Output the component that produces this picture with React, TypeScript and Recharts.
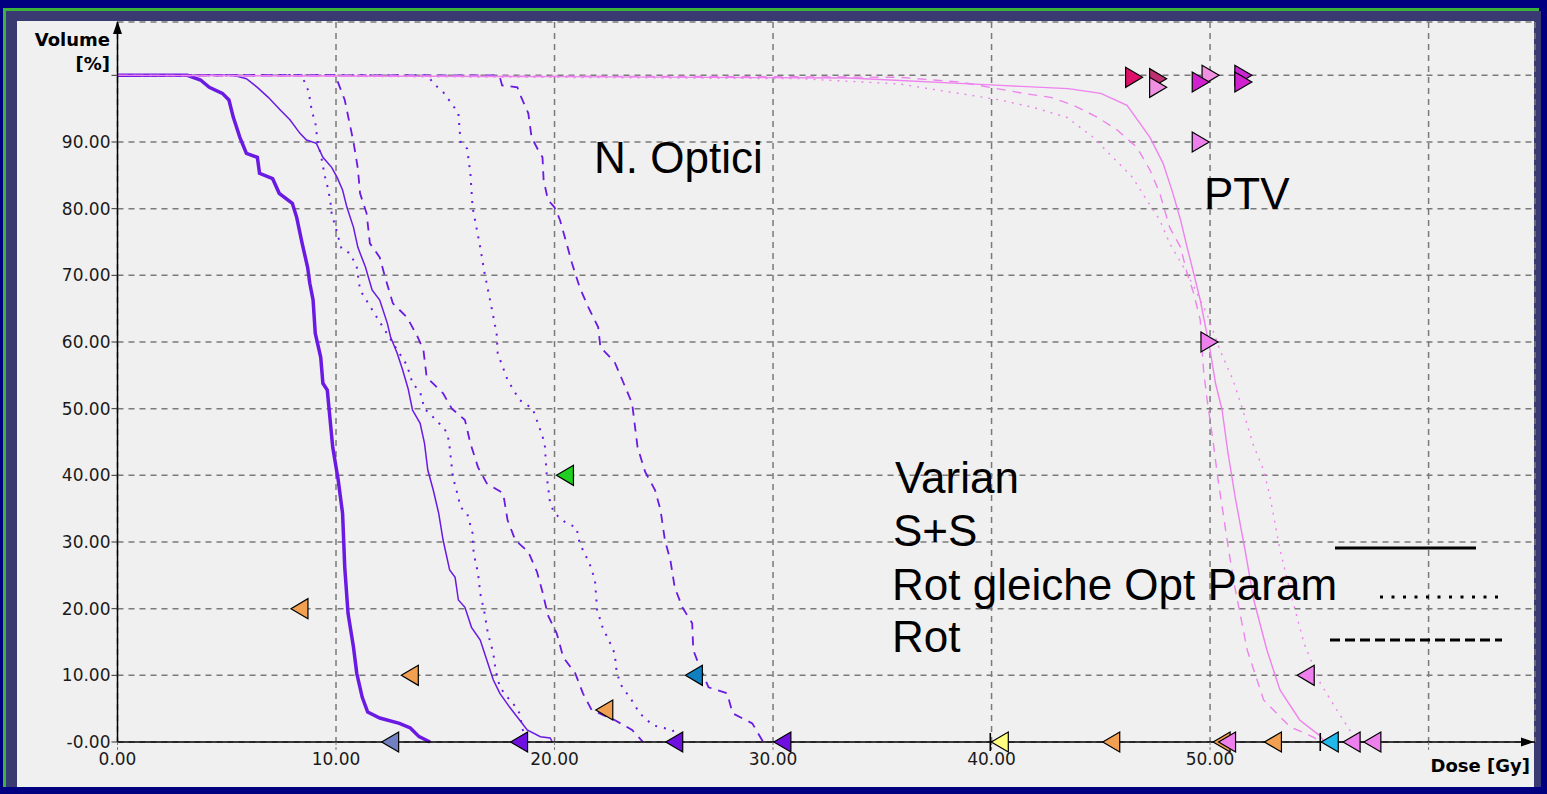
import React from "react";
import { ComposedChart, Line, Scatter, XAxis, YAxis, CartesianGrid } from "recharts";

const xTicks = [0, 10, 20, 30, 40, 50, 60];
const yTicks = [0, 10, 20, 30, 40, 50, 60, 70, 80, 90, 100];

// N. Optici DVH curves, [dose Gy, volume %]
const nervThick = [[0, 100], [3.2, 100], [3.8, 99.3], [4.2, 98.2], [4.8, 97.3], [5.1, 96.3], [5.3, 93.7], [5.6, 90.7], [5.9, 88.3], [6.4, 87.7], [6.5, 85.3], [7.1, 84.5], [7.4, 82.3], [8.0, 80.8], [8.2, 78.7], [8.45, 74.8], [8.7, 71.2], [8.8, 68.8], [8.95, 66.3], [9.05, 61.3], [9.3, 57.7], [9.4, 53.8], [9.6, 52.8], [9.85, 44.2], [10.1, 39.3], [10.3, 34.3], [10.4, 26.2], [10.55, 19.3], [10.8, 14.2], [10.95, 10.3], [11.2, 6.7], [11.45, 4.5], [12.0, 3.6], [12.9, 2.8], [13.4, 2.1], [13.8, 0.8], [14.3, 0]];
const nervThin = [[0, 100], [5.3, 100], [5.9, 99.5], [6.4, 98.2], [6.9, 96.7], [7.45, 94.8], [7.9, 93.3], [8.35, 91.3], [8.65, 90.3], [9.1, 89.8], [9.4, 87.7], [9.8, 86.2], [10.05, 84.7], [10.3, 82.8], [10.5, 80.2], [10.8, 77.2], [11.0, 74.2], [11.35, 71.2], [11.65, 67.8], [12.0, 66.3], [12.35, 62.8], [12.5, 60.7], [12.8, 58.3], [13.05, 55.8], [13.3, 53], [13.5, 49.8], [13.85, 47.8], [14.05, 44.8], [14.2, 40.8], [14.45, 37.8], [14.7, 34.3], [14.9, 30.3], [15.2, 25.8], [15.45, 24.7], [15.6, 21.3], [15.9, 20.2], [16.2, 17.2], [16.6, 15.3], [16.9, 12.3], [17.2, 9.3], [17.5, 7.3], [17.95, 5.2], [18.4, 3.3], [18.75, 1.8], [19.35, 0.8], [19.8, 0.6], [19.9, 0]];
const nervDottedA = [[0, 100], [8.4, 100], [8.6, 98.8], [8.75, 97.5], [8.9, 94.5], [9.05, 93], [9.15, 90.3], [9.35, 87.3], [9.5, 84.7], [9.65, 82.8], [9.75, 80.8], [9.8, 79.3], [10.25, 74], [10.65, 73.3], [10.95, 71.2], [11.1, 67.8], [12.0, 63], [12.9, 58.3], [13.25, 56.5], [13.5, 53.8], [13.85, 52.5], [14.05, 50], [14.45, 48.7], [14.9, 47.2], [15.1, 46.3], [15.2, 44.2], [15.3, 41.2], [15.35, 39.7], [15.55, 37.3], [15.7, 35.2], [16.0, 34.3], [16.25, 31.3], [16.3, 28.3], [16.5, 25.3], [16.6, 22.3], [16.8, 19.3], [16.95, 16.3], [17.2, 13.3], [17.3, 10.8], [17.5, 8.2], [17.85, 6.7], [18.1, 5.8], [18.4, 4.3], [18.55, 1.8], [18.7, 0]];
const nervDashedA = [[0, 100], [9.95, 100], [10.05, 99.3], [10.4, 96.3], [10.8, 90], [11.0, 86], [11.1, 82.3], [11.4, 79.3], [11.55, 74.8], [12.0, 72.7], [12.25, 69.7], [12.6, 65.8], [13.25, 63.7], [13.7, 61], [14.0, 58.8], [14.15, 54.7], [14.9, 52.3], [15.3, 50], [15.9, 48.3], [16.15, 44.8], [16.5, 41.2], [16.9, 38.8], [17.65, 37.3], [17.85, 33.3], [18.2, 30.3], [18.8, 28.5], [19.2, 25.5], [19.45, 22.5], [19.7, 19], [20.1, 16.3], [20.4, 12.7], [20.95, 10.3], [21.3, 7.3], [21.7, 4.8], [22.75, 3.3], [23.55, 1.8], [24.05, 0]];
const nervDottedB = [[0, 100], [14.2, 100], [14.45, 98.8], [14.9, 97.5], [15.35, 95.5], [15.6, 94.3], [15.7, 90], [16.0, 89], [16.15, 85.3], [16.25, 80.2], [16.6, 74.2], [16.8, 70.3], [17.05, 66.3], [17.35, 61.3], [17.4, 58.3], [17.85, 54.3], [18.4, 51.3], [19.0, 50], [19.35, 46.8], [19.55, 44.8], [19.65, 39.7], [19.8, 35.8], [20.0, 34.3], [20.55, 32.8], [21.0, 32.2], [21.15, 29.8], [21.6, 26.8], [21.85, 24.3], [21.95, 19.8], [22.2, 17.2], [22.55, 14.8], [22.75, 13.3], [22.85, 10.3], [23.1, 8.2], [23.45, 6.7], [23.9, 4.3], [24.5, 2.5], [25.4, 1.8], [25.75, 0]];
const nervDashedB = [[0, 100], [17.4, 100], [17.5, 99.7], [17.6, 98.5], [18.3, 98.2], [18.4, 97.3], [18.8, 94.3], [18.95, 90.7], [19.25, 88.8], [19.45, 87.7], [19.5, 84.3], [19.7, 81.3], [20.0, 80.2], [20.25, 78.3], [20.55, 74.8], [20.8, 71.8], [21.15, 68.2], [21.55, 65.2], [22.0, 62.2], [22.1, 59.2], [22.75, 57], [23.1, 54.3], [23.55, 50.8], [23.8, 44.2], [24.15, 40.5], [24.6, 37.8], [24.85, 34.8], [25.05, 30.3], [25.3, 27.3], [25.5, 23.2], [25.85, 20.2], [26.3, 17.8], [26.35, 13.8], [26.65, 11.2], [27.05, 8.2], [27.9, 7.3], [28.15, 4.3], [29.05, 2.8], [29.55, 0]];

// PTV DVH curves
const ptvSolid = [[0, 100], [20, 99.8], [33.5, 99.6], [40.4, 98.5], [43.5, 98], [45, 97.3], [46.2, 95.5], [47.25, 90.7], [47.85, 86.8], [48.3, 82.3], [48.65, 78.3], [48.95, 74.2], [49.25, 70.3], [49.55, 66.3], [49.85, 61.3], [50.0, 58.8], [50.25, 53.8], [50.55, 49.8], [50.8, 43.8], [51.15, 36.7], [51.6, 28.8], [52.0, 21.3], [52.6, 13.8], [53.2, 7.8], [54.1, 3.3], [55.0, 1], [55.25, 0]];
const ptvDashed = [[0, 100], [30, 99.8], [35.8, 99.7], [38.55, 99], [41.45, 97.3], [42.7, 96.7], [43.75, 95.5], [44.85, 93.7], [45.75, 91.8], [46.65, 89.2], [47.25, 85.8], [47.7, 82.3], [48.15, 77.2], [48.65, 74.2], [48.95, 70.3], [49.25, 67.3], [49.55, 63.3], [49.7, 55.8], [49.85, 51.7], [50.15, 44.8], [50.35, 39.7], [50.85, 28.8], [51.1, 23.8], [51.7, 13.8], [52.45, 6.3], [53.65, 2.3], [54.75, 0.7], [55.05, 0]];
const ptvDotted = [[0, 100], [20, 99.7], [31.2, 99.5], [35.8, 98.7], [40.4, 96.3], [41.9, 95.2], [43.45, 93.7], [44.65, 90.7], [45.55, 87.7], [46.45, 84.7], [47.1, 81.3], [47.7, 78.3], [48.15, 74.8], [48.95, 70.3], [49.4, 67.3], [49.85, 64.3], [50.45, 58.8], [51.05, 54.3], [51.5, 49.8], [51.95, 44.8], [52.45, 40.8], [52.75, 36.7], [53.2, 28.8], [53.65, 22.8], [54.3, 14.8], [55.05, 8.8], [55.8, 4.8], [56.6, 0.7], [56.85, 0]];

// dose statistic markers
const orangeMarks = [[8.35, 20], [13.4, 10], [22.3, 4.8], [45.5, 0], [50.55, 0], [52.9, 0]];
const slateMarks = [[12.5, 0]];
const purpleMarks = [[18.4, 0], [25.5, 0], [30.45, 0]];
const greenMarks = [[20.5, 40]];
const blueMarks = [[26.4, 10]];
const yellowMarks = [[40.4, 0]];
const cyanMarks = [[55.5, 0]];
const violetLeftMarks = [[50.8, 0], [56.5, 0], [57.45, 0], [54.4, 10]];
const crimsonMarks = [[46.5, 99.7]];
const roseMarks = [[47.6, 99.5]];
const magentaMarks = [[49.55, 99], [51.5, 99]];
const orchidMarks = [[51.5, 100]];
const lightPinkMarks = [[47.6, 98.2], [50.0, 100]];
const violetRightMarks = [[49.55, 90], [49.95, 60]];

const pts = (a: number[][]) => a.map(([d, v]) => ({ d, v }));

const FONT = '"DejaVu Sans", sans-serif';
const BIG = '"Liberation Sans", Arial, sans-serif';
const NERV = "#6a1ae2";
const PTV = "#ee82ee";

function tri(fill: string, dir: "left" | "right", bar = false) {
  return (p: any) => {
    const { cx, cy } = p;
    if (cx == null || cy == null) return <g />;
    const points =
      dir === "left"
        ? `${cx - 9},${cy} ${cx + 8},${cy - 10} ${cx + 8},${cy + 10}`
        : `${cx + 9},${cy} ${cx - 8},${cy - 10} ${cx - 8},${cy + 10}`;
    return (
      <g>
        {bar && <line x1={cx - 10} x2={cx - 10} y1={cy - 9} y2={cy + 9} stroke="#000" strokeWidth={1.6} />}
        <polygon points={points} fill={fill} stroke="#000" strokeWidth={1.2} />
      </g>
    );
  };
}

const txt = (left: number, top: number, s: string) => (
  <div style={{ position: "absolute", left, top, fontFamily: BIG, fontSize: 44, lineHeight: 1, color: "#000", whiteSpace: "nowrap" }}>{s}</div>
);

export default function App() {
  const nerv = [
    { data: nervThick, w: 3.5, dash: undefined },
    { data: nervThin, w: 1.5, dash: undefined },
    { data: nervDottedA, w: 2, dash: "2 7" },
    { data: nervDashedA, w: 1.8, dash: "9 7" },
    { data: nervDottedB, w: 2, dash: "2 7" },
    { data: nervDashedB, w: 1.8, dash: "9 7" },
  ];
  const ptv = [
    { data: ptvDotted, dash: "2 6" },
    { data: ptvDashed, dash: "9 7" },
    { data: ptvSolid, dash: undefined },
  ];
  const marks: [number[][], string, "left" | "right", boolean][] = [
    [slateMarks, "#7080c0", "left", false],
    [orangeMarks, "#f0a050", "left", false],
    [purpleMarks, "#7010e0", "left", false],
    [greenMarks, "#20d020", "left", false],
    [blueMarks, "#1080c0", "left", false],
    [yellowMarks, "#ffff80", "left", true],
    [cyanMarks, "#20b8e8", "left", true],
    [violetLeftMarks, "#ee80ee", "left", false],
    [violetRightMarks, "#ee80ee", "right", false],
    [crimsonMarks, "#e0106a", "right", false],
    [roseMarks, "#c03070", "right", false],
    [lightPinkMarks, "#f090e0", "right", false],
    [orchidMarks, "#c828d0", "right", false],
    [magentaMarks, "#d020d0", "right", false],
  ];

  return (
    <div style={{ position: "absolute", left: 0, top: 0, width: 1547, height: 794, background: "#000080", overflow: "hidden" }}>
      <div style={{ position: "absolute", left: 3, top: 8, width: 1536, height: 779, background: "#3cb43c" }} />
      <div style={{ position: "absolute", left: 6, top: 11, width: 1535, height: 776, background: "#3a3a72" }} />
      <div style={{ position: "absolute", left: 17, top: 21, width: 1517, height: 766, background: "#f0f0f0" }} />

      <div style={{ position: "absolute", left: 0, top: 0 }}>
        <ComposedChart width={1547} height={794} margin={{ top: 22, right: 12, bottom: 0, left: 0.5 }}>
          <CartesianGrid stroke="#7a7a7a" strokeDasharray="6 5" strokeWidth={1.5} />
          <XAxis
            dataKey="d"
            type="number"
            domain={[0, 64.87]}
            ticks={xTicks}
            interval={0}
            height={52}
            tickSize={8}
            tickMargin={3}
            axisLine={{ stroke: "#000", strokeWidth: 1.5 }}
            tickLine={{ stroke: "#7a7a7a", strokeDasharray: "3 2" }}
            tick={{ fill: "#1a1a1a", fontSize: 17, fontFamily: FONT }}
            tickFormatter={(v: number) => (v === 60 ? "" : v.toFixed(2))}
          />
          <YAxis
            dataKey="v"
            type="number"
            domain={[0, 108]}
            ticks={yTicks}
            interval={0}
            width={117}
            tickSize={6}
            tickMargin={1}
            axisLine={{ stroke: "#000", strokeWidth: 1.5 }}
            tickLine={{ stroke: "#333" }}
            tick={{ fill: "#1a1a1a", fontSize: 17, fontFamily: FONT }}
            tickFormatter={(v: number) => (v === 0 ? "-0.00" : v === 100 ? "" : v.toFixed(2))}
          />
          {nerv.map((s, i) => (
            <Line key={"n" + i} data={pts(s.data)} dataKey="v" type="linear" stroke={NERV} strokeWidth={s.w} strokeDasharray={s.dash} dot={false} activeDot={false} isAnimationActive={false} />
          ))}
          {ptv.map((s, i) => (
            <Line key={"p" + i} data={pts(s.data)} dataKey="v" type="linear" stroke={PTV} strokeWidth={1.4} strokeDasharray={s.dash} dot={false} activeDot={false} isAnimationActive={false} />
          ))}
          {marks.map(([m, c, dir, bar], i) => (
            <Scatter key={"m" + i} data={pts(m)} dataKey="v" shape={tri(c, dir, bar)} isAnimationActive={false} />
          ))}
        </ComposedChart>
      </div>

      {/* axis arrows and legend samples */}
      <svg width={1547} height={794} style={{ position: "absolute", left: 0, top: 0, pointerEvents: "none" }}>
        <polygon points="117.5,21 113,34 122,34" fill="#000" />
        <polygon points="1534,742 1521,737.5 1521,746.5" fill="#000" />
        <line x1={1335} x2={1476} y1={548} y2={548} stroke="#000" strokeWidth={3} />
        <line x1={1380} x2={1506} y1={597} y2={597} stroke="#000" strokeWidth={3} strokeDasharray="3 8.5" />
        <line x1={1330} x2={1502} y1={640} y2={640} stroke="#000" strokeWidth={3} strokeDasharray="10 5" />
      </svg>

      <div style={{ position: "absolute", left: 0, width: 110, top: 31, textAlign: "right", fontFamily: FONT, fontWeight: "bold", fontSize: 18, lineHeight: 1, color: "#000" }}>Volume</div>
      <div style={{ position: "absolute", left: 0, width: 110, top: 55, textAlign: "right", fontFamily: FONT, fontWeight: "bold", fontSize: 18, lineHeight: 1, color: "#000" }}>[%]</div>
      <div style={{ position: "absolute", left: 1330, width: 200, top: 757, textAlign: "right", fontFamily: FONT, fontWeight: "bold", fontSize: 18, lineHeight: 1, color: "#000" }}>Dose [Gy]</div>

      {txt(594, 136, "N. Optici")}
      {txt(1204, 172, "PTV")}
      {txt(895, 456, "Varian")}
      {txt(893, 509, "S+S")}
      {txt(892, 563, "Rot gleiche Opt Param")}
      {txt(892, 615, "Rot")}
    </div>
  );
}
